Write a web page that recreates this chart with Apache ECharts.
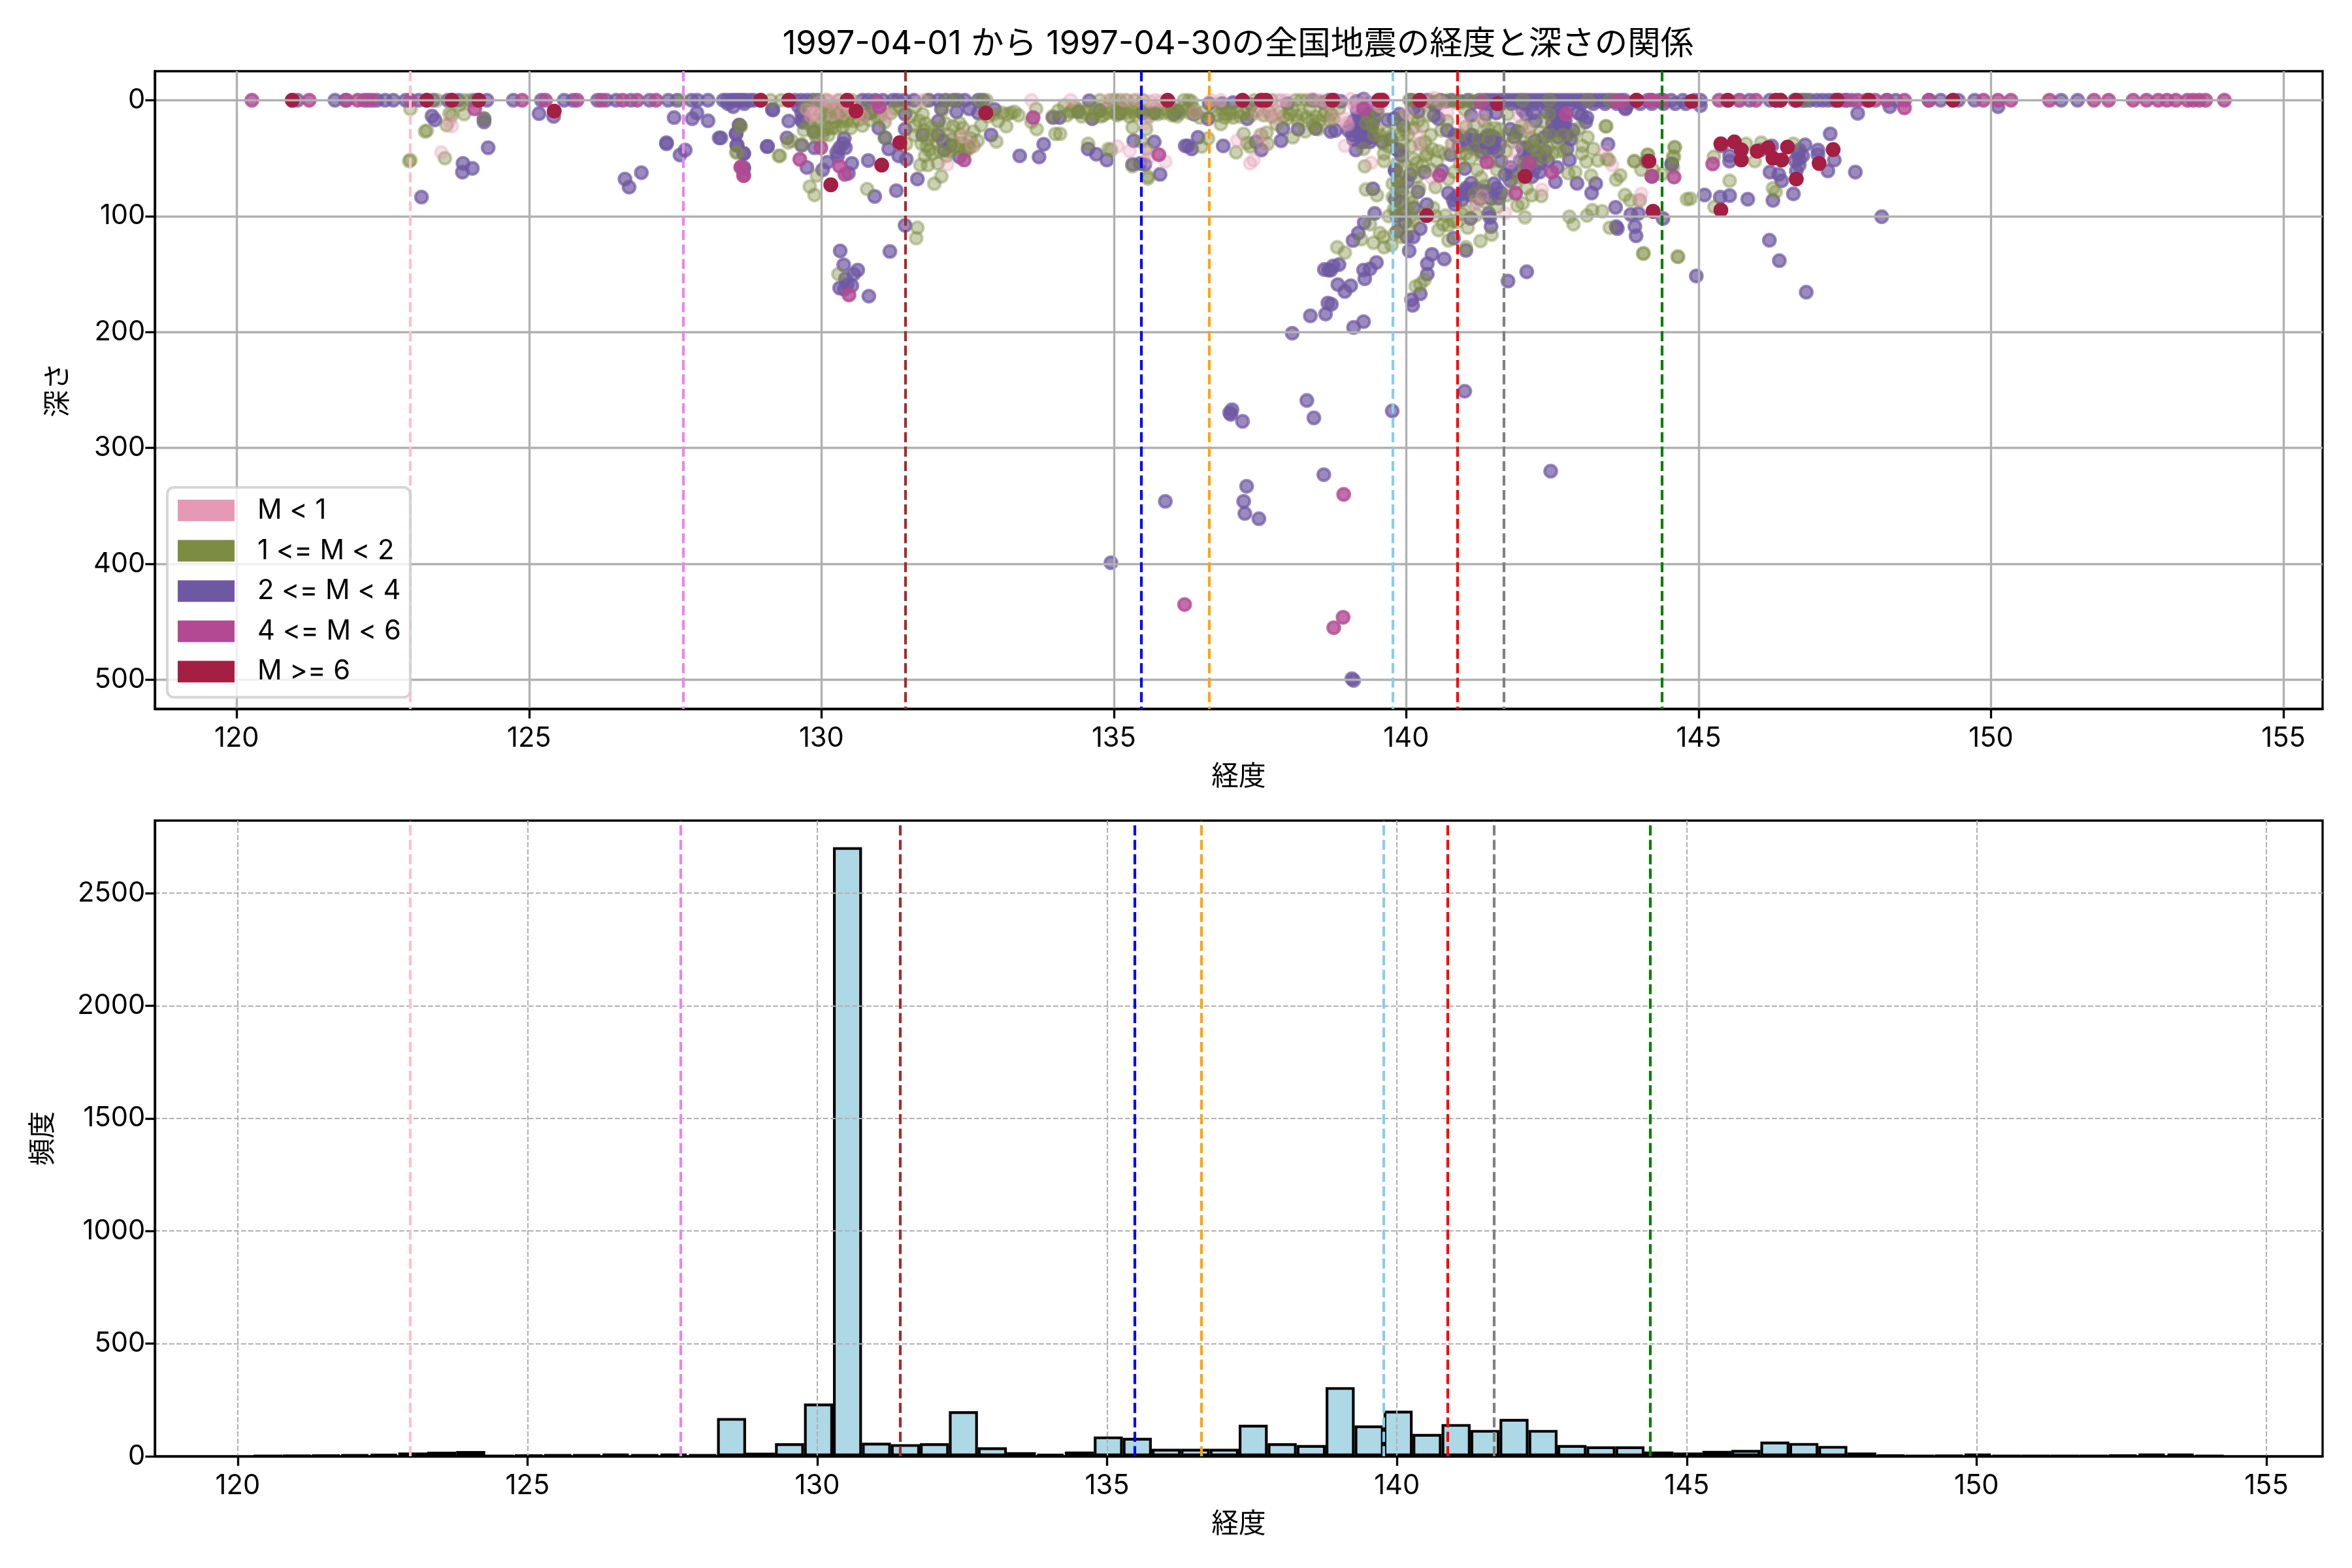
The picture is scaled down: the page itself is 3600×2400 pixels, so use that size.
<!DOCTYPE html>
<html><head><meta charset="utf-8">
<script src="https://cdn.jsdelivr.net/npm/echarts@6/dist/echarts.min.js"></script>
<style>html,body{margin:0;padding:0;background:#fff}#c{width:3600px;height:2400px}</style>
</head><body><div id="c"></div>
<script>
const FONT='Inter,"Noto Sans CJK JP"';
const titleText='1997-04-01 から 1997-04-30の全国地震の経度と深さの関係';
const legendNames=['M < 1','1 <= M < 2','2 <= M < 4','4 <= M < 6','M >= 6'];
const solidColors=['#e699b4','#7c8c42','#6f58a3','#b14a93','#a41f43'];
const fillColors=['rgba(230,153,180,0.3)','rgba(124,140,66,0.4)','rgba(111,88,163,0.7)','rgba(177,74,147,0.8)','rgba(164,31,67,1)'];
const vlineValues=[122.97,127.64,131.43,135.47,136.63,139.77,140.87,141.67,144.37];
const vlineColors=['#ffc0cb','#ee82ee','#a52a2a','#0000ff','#ffa500','#87ceeb','#ff0000','#808080','#008000'];
const xTicks=[120,125,130,135,140,145,150,155];
const depthTicks=[0,100,200,300,400,500];
const countTicks=[0,500,1000,1500,2000,2500];
const binStart=120.27, binWidth=0.5;
const binCounts=[2,4,5,8,11,17,20,23,3,5,8,8,12,8,12,8,170,16,58,234,2704,60,54,58,200,40,18,11,21,88,82,33,33,33,140,58,50,307,137,202,99,143,117,166,117,50,44,44,21,17,24,28,65,59,46,17,5,3,4,12,2,2,2,2,5,12,12,3];

const pointsPink=[
[133.59,0],[129.85,11],[130.28,0],[130.95,3],[131.08,11],[132.15,55.4],[132.42,31],[132.57,39],[130.1,0],[130.37,11],[131.71,0],[129.9,12],[130.5,8],[130.7,14],
[134.26,0],[135.06,40],[135.27,43.8],[135.58,45],[135.58,50.7],[135.88,53],[135.71,0],[135.55,19.7],[135.62,1],[136.66,0],[136.83,0],[136.38,11],[137.11,34.7],[137.5,30],[137.56,39.4],[137.33,54.5],[137.39,51.6],[137.45,11],[137.72,11],[137.78,15],[137.86,0],[137.95,0],[138.41,-1],[138.95,39.4],[139.4,54],[138.97,19.7],[138.95,16],[139.1,3.8],[139.2,3.8],[138.75,15],[139.05,-1],[139.61,-1],[139,21],[134.9,0],[135.18,0],[135.4,0],[135.8,1],[137.62,12],[138.55,0],[138.8,0],[139.15,6],
[140.18,28],[140.23,38.5],[140.7,11],[140.8,37.6],[141.3,82.6],[141.78,53.5],[141.88,43],[142.08,25],[141.93,14],[141.69,97.6],[142.32,77],[143.4,45],[143.52,56],[144.02,80.8],[144,86],[140.01,11],[140.48,-2],[141.28,15],[141.19,90],[140.44,67.6],[140.98,19.7],
[123.68,22.5],[123.5,45],[123.64,18],
[129.82,14],[129.95,2],[130.15,1],[130.4,3],[130.55,2],[130.62,10],[130.98,4],[131.12,14],[130.2,12],[129.75,8],[138.65,2],[139.3,0],[139.45,2],[139.55,5],[137.8,0],[140.3,1],[140.6,2]
];
const pointsOlive=[
[128.62,22.5],[128.54,45],[129.29,48],[129.43,36.6],[129.49,35],[129.66,38],[129.92,65],[129.8,74.5],[129.88,81.7],[130.78,76.6],[131.64,110],[131.62,119],[130.29,150],[131.69,56],[131.82,56],[131.99,54.5],[132.05,65.7],[131.93,72],[132.25,22.5],[132.36,19.7],[132.6,27],[132.73,21.6],[132.99,35.7],[133.16,22.5],[133.68,25],[133.67,7.5],[134,29],
[129.81,7.5],[130,11],[130.11,9.4],[130.22,18.8],[130.33,9.4],[130.41,5.6],[130.11,24.4],[129.88,29],[130.03,26.3],[130.44,17.8],[129.92,16.9],[130.16,15],[129.72,6.6],[130.63,11],[130.74,13],[130.96,15],[131.19,11],[130.05,6],[130.2,8],[130.27,13],[130.36,15],[130.5,12],[129.98,20],
[131.73,12],[131.67,17.8],[131.75,26],[131.82,34],[131.8,39.4],[131.84,43],[131.97,35.7],[131.71,37.6],[132.45,43],[132.53,41],[132.6,39.4],[132.34,42],[132.23,33.8],[132.27,39.4],[131.45,37.6],[131.08,32],[132.07,8.5],[132.79,11],[132.94,12],[133.09,11],[133.24,11],[133.37,13],[133.59,18.8],[131.34,5.6],[131.9,30],[131.6,6],[132.47,44],[132.5,39],
[130.08,0],[130.3,0],[130.52,0],[129.9,0],[131.8,0],[132.15,0],[132.3,0],[132.7,0],[132.82,0],
[134.26,10],[134.28,9],[134.62,15],[134.15,4.7],[134.08,29],[134.56,37.6],[134.91,42],[134.95,43],[135.32,23.5],[135.55,25],[135.47,35.7],[135.56,42],[135.58,65.7],[135.58,67.6],[135.32,57],[134.76,0],[134.95,0],[135.1,0],[135.36,0],[136.2,0],[136.33,1],[134.89,11],[135.04,12],[135.21,11],[135.34,10],[135.62,11],[135.85,11],[135.99,13],[136.25,7.5],[136.4,11],[136.5,40],[136.61,33],[136.83,20.6],[136.92,12],[137.04,15],[137.22,11],[137.56,13],[137.22,29],[137.09,45],[137.33,40],[137.28,37],[137.63,37.6],[137.52,30],[137.61,28],[138.06,32],[137.78,20.6],[138,12],[138.11,0],[138.3,0],[138.15,17.8],[138.27,27],[138.39,17.8],[138.49,25],[138.75,16],[139.31,19.7],[139.27,42],[139.29,57],[139.31,77],[139.5,82],[139.62,46],[139.62,52.6],[139.77,72],[139.77,83.6],[139.79,94],[139.38,107],[139.55,114.6],[139.44,123],[139.61,118],[139.62,126.8],[138.82,126.8],[138.95,131.5],[139.23,120],[139.68,28],[139.61,37.6],
[134.4,8],[134.5,11],[134.7,7],[134.82,13],[135.12,7],[135.26,14],[135.42,8],[135.7,7],[135.92,9],[136.08,14],[136.18,6],[136.47,15],[136.72,9],[136.78,13],[136.98,9],[137.1,10],[137.3,8],[137.65,10],[137.9,14],[138.05,8],[138.22,12],[138.35,8],[138.45,14],[138.58,13],[138.68,17],[139.35,14],[139.5,25],[139.7,40],[139.85,55],[139.9,66],[139.95,75],[140.02,95],[139.88,105],
[133.95,14],[134.05,9],[134.2,13],[134.33,6],[134.45,14],[134.56,8],[134.66,12],[134.78,14],[134.86,7],[134.98,9],[135.06,13],[135.16,9],[135.3,7],[135.38,13],[135.5,9],[135.6,14],[135.75,12],[135.8,8],[136,7],[136.13,11],[136.3,11],[136.36,7],[136.55,10],[136.85,8],[136.9,15],[137.0,12],[137.16,14],[137.35,13],[137.45,9],[137.7,14],[137.85,10],[137.96,16],[138.12,13],[138.3,15],[138.41,22],[138.52,18],[138.62,10],[138.72,12],[138.85,7],[135.02,0],[135.22,0],[135.5,0],[135.95,2],[136.28,0],[137.4,0],[137.7,0],[138.2,0],[138.5,1],
[139.42,22],[139.55,30],[139.72,32],[139.82,24],[139.92,15],[139.95,35],[140.03,30],[140.08,40],[140.12,24],[140.2,18],[140.32,36],[140.36,46],[139.85,76],[139.98,56],[140.1,60],[140.18,54],[140.28,56],[139.83,95],[139.95,88],[140.1,88],[140.28,98],[140.42,60],[140.5,75],[140.55,44],[140.6,26],[140.66,46],[140.72,68],[140.82,62],[140.92,55],[139.7,100],[139.8,115],[139.92,118],[140.05,110],[140.12,104],[139.75,125],[140.5,100],[140.55,112],[140.95,98],[140.92,46],[141.02,23],[141.1,50],[141.3,48],[141.45,53],[141.55,60],[141.6,25],[141.7,44],[141.83,36],[142.15,40],[142.2,52],[142.3,38],[142.42,40],[142.5,46],[142.62,44],[142.68,30],[142.02,36],[140.12,0],[140.22,1],[140.42,0],[140.52,2],[140.72,0],[140.95,2],[141.1,0],[141.2,1],[141.3,0],
[129.78,20],[129.85,24],[130.08,14],[130.18,24],[130.26,7],[130.33,18],[130.44,7],[130.55,18],[130.72,7],[130.82,17],[131.0,8],[131.08,19],[131.25,7],[131.9,46],[132.02,44],[132.14,48],[132.2,30],[132.4,37],[131.77,48],[131.6,30],
[129.7,26],[129.92,32],[130.02,30],[130.12,30],[130.24,24],[130.36,23],[130.5,24],[130.64,17],[130.7,22],[130.88,10],[131.02,13],[131.52,14],[131.6,22],[131.78,20],[131.88,23],[132,25],[132.12,20],[132.18,44],[132.38,30],[132.42,24],[132.55,33],[132.67,35],[132.85,14],[133.02,18],[133.18,12],[133.3,10],[140.7,18],[140.92,30],[141.02,46],[141.16,22],[141.34,18],[141.52,24],[141.72,30],[141.98,22],[142.1,24],[142.34,18],[142.7,44],[142.86,30],[143,46],[142.96,24],[143.1,32],[143.28,52],[143.2,42],[141.2,88],[141.36,88],[141.55,92],[141.72,82],[141.86,72],[142.15,82],[141.92,66],[141,95],[141.2,99],[140.72,108],[141.05,110],[141.46,116],
[140.39,13],[140.28,22.5],[140.42,30],[139.98,26],[140.24,37.6],[140.44,42],[140.13,50.7],[139.94,43],[140.52,52.6],[139.88,67.6],[140.05,84.5],[140.46,93],[140.67,99.5],[140.63,107],[140.8,104],[140.87,105],[140.72,121],[140.24,158.7],[140.31,155],[140.16,160.6],[141.02,126.8],[141.27,121.5],[140.78,37.6],[141.15,42],[141.23,32],[141.39,24.4],[141.41,33.8],[141.73,12],[141.21,60],[141.17,80.8],[141.34,74],[141.28,66.7],[141.92,27],[142.14,32],[142.29,28],[142.47,30],[142.58,36.6],[142.23,43],[142.38,48.8],[142.01,54.5],[142.06,76],[141.99,89],[141.9,91],[142.03,101],[142.31,82.6],[143.01,39.4],[143.08,53],[142.77,63],[142.89,62],[143.16,65],[143.42,22.5],[143.47,51.6],[143.59,68.5],[143.66,64.8],[143.74,81.7],[143.83,86.4],[143.99,86.4],[142.79,100.5],[142.86,107],[143.09,99.5],[143.18,94.8],[143.35,95.8],[143.48,110],[144.06,132],[144.64,135],[144.59,40.8],[144.56,48.8],[143.9,52.6],[144.02,60],[144.13,47],[144.22,60],[144.37,63.8],[144.8,85.4],[141.99,0],[142.45,0],[143.11,0],[143.48,0],[142.44,12],[140.05,0],[140.3,2],[140.6,0],[140.85,2],[141,8],
[145.81,37.6],[146.07,36.6],[145.26,48.8],[145.53,69.5],[145.96,52.6],[146.27,76],[146.32,79],[144.86,84.9],[145.27,92],[144.05,132.4],[144.65,135],[146.62,37.6],[144.59,40.4],[144.58,48.8],[144.56,58],[143.9,52.6],[144.13,47],[143.41,22.5],[143.43,50.7],[146.82,0],[145.68,0],[145.48,0],
[122.97,7.5],[123.89,12],[123.68,13],[123.59,21.6],[123.25,26.3],[123.22,27],[122.97,51.6],[122.95,52.6],[123.56,50],[124.23,16],[123.82,3.8],[123.64,11.3],[128.61,22.5],[128.56,45],[129.27,48],[123.43,0],[123.89,0],[123.99,0],[127.6,0],[129.13,0],[129.31,0],
[139.45,30],[139.52,12],[139.88,30],[140.1,16],[140.33,48],[140.18,66],[140.08,100],[140.22,76]
];
const pointsPurple=[
[128.28,32.5],[128.54,29],[128.59,21.6],[128.55,39],[128.67,46],[128.67,59],[129.44,18],[129.16,8],[129.07,40],[129.41,32.5],[129.68,19],[129.66,39],[129.88,41],[129.87,27],[130.1,53.5],[130.02,60],[129.75,58],[130.52,54.5],[130.46,63],[130.8,52],[130.91,83],[131.28,78],[131.64,68],[131.43,108],[130.32,130],[130.38,142],[130.62,146.5],[130.55,150],[130.52,160],[130.41,154],[130.31,162],[130.39,163],[130.44,159],[130.81,169],[131.17,130.5],[130.39,33],[130.37,37.5],[130.31,41],[130.26,45],[130.28,48],[130.41,41],[130.98,24],[131.09,32.5],[131.15,42],[131.32,48],[131.45,51],[131.43,25],[131.43,12],[130.82,11],[132,18],[131.99,30],[132.08,35],[132.21,39],[132.1,43],[132.36,49],[132.31,10],[132.05,7.5],[132.53,7.5],[132.68,11],[132.9,30],[132.96,8],[133.39,48],[133.8,38],[133.72,49],[133.96,15],[131.73,30],[129.66,11],[129.66,17],[129.6,5],[129.7,14],
[128.32,0],[128.38,0],[128.45,0],[128.5,0],[128.55,0],[128.6,0],[128.65,0],[128.7,0],[128.78,0],[128.84,0],[129.55,0],[129.65,0],[129.75,0],[129.85,0],[129.95,0],[130.7,0],[130.8,0],[130.92,0],[131.05,0],[131.22,0],[131.3,0],[131.42,0],[131.58,0],[131.84,0],[132,0],[132.12,0],[132.25,0],[132.33,0],[132.45,0],[132.68,0],[132.76,0],[128.4,3],[128.68,3],
[134.58,0.4],[134.39,10],[134.76,9],[134.63,16],[135.1,11],[135.34,35],[135.69,36],[134.56,42],[134.7,46.6],[134.88,51.6],[135.49,11],[135.69,11],[136.09,9.4],[136.03,12],[136.37,12],[136.61,16],[136.44,32],[136.22,39.4],[136.27,39.4],[136.33,42],[136.87,39.4],[137.43,36],[137.52,43],[137.86,35],[137.89,24.4],[138.15,25],[137.97,3],[137.35,3.8],[137.28,16],[138.45,24.4],[138.58,2],[138.88,1],[138.71,27],[138.79,26],[139.16,9],[139.27,-1],[139.27,6.6],[139.08,30],[139.27,28],[139.34,32],[139.23,35.7],[139.14,43],[139.01,26],[139.59,35.7],[139.74,33.8],[139.68,17],[139.79,16],[139.27,20.6],[139.43,76.4],[139.46,97.7],[139.28,105.5],[139.18,114.6],[139.09,121],[138.85,141.8],[138.67,146.5],[138.71,146.5],[138.83,159],[139.27,146.5],[139.38,145.5],[139.49,140],[139.29,154],[138.66,175],[136.63,2.8],[136.85,2.8],[137.04,2],[139.81,85.4],[139.81,61],[139.85,43],[135.45,54.5],[135.53,55.4],[135.79,64],[135.32,55.4],[134.07,15],[138.4,0],[138.68,0],[138.78,0],[139.1,18],[139.2,14],[139.35,12],[139.4,26],[139.22,25],[139.3,33],[139.42,20],[139.5,8],[139.15,1],[139.38,3],
[139.05,22],[139.12,24],[139.2,30],[139.28,36],[139.35,24],[139.42,32],[139.1,34],[139.22,18],[139.3,15],[139.45,16],[139.18,28],[139.32,22],[139.38,36],[139.88,12],[139.95,22],[139.92,48],[139.86,70],[139.95,98],[139.84,100],[140.02,70],[139.98,105],[140.12,118],[140.05,130],
[140.13,6.6],[139.87,43],[139.81,60],[140.07,64],[140.31,62],[140.61,61],[139.92,79],[140.2,79],[139.9,88],[140.13,93],[140.35,90],[140.24,110.8],[140.01,118],[139.85,112.7],[140.81,119],[140.44,133],[140.65,137],[140.36,141],[140.36,150],[140.24,167],[140.09,172],[140.11,177],[141.02,129.6],[141.74,156],[142.06,148],
[140.83,30],[140.87,32],[140.76,47],[141.06,33.8],[141.17,34.7],[141.24,39.4],[141,59],[141.47,31],[141.5,41],[141.6,37.6],[141.62,52.6],[141.69,64],[141.78,69.5],[141.9,27],[141.99,41],[142.08,60],[142.06,41],[142.29,54.5],[142.58,58],[142.55,70.4],[142.81,33.8],[142.79,51.6],[142.62,20.6],[142.58,15],[142.7,22.5],[143.07,18.8],[143.09,15],[142.94,11],[142.92,71.7],[143.24,72],[143.17,80],[143.45,38],[143.58,92.4],[143.84,98.6],[143.97,97.7],[143.91,109],[143.93,117],[143.59,109],[143.61,110.8],[143.75,6.6],[144.11,52.6],[144.54,54.8],[144.39,102],[144.2,65.7],[140.72,80],[140.87,82.6],[140.98,80.8],[140.83,90],[141.11,71.4],[141.1,102],[141.5,72],[141.39,79],[141.58,84.5],[141.41,97.7],[141.45,109],[141.43,101],[141.99,8.5],[142.18,11],[142.21,18],[141.54,11],[141.36,12],[141.78,25],[140.48,13],[140.5,4.7],[141.11,13],[142.36,32],[142.66,18],[142.54,24],[141.48,38],[141.35,33],[142.75,30],[141.02,78],[140.8,86],
[142.4,10],[142.5,12],[142.55,9],[142.62,14],[142.68,12],[142.72,18],[142.5,20],[142.6,26],[142.45,28],[142.65,24],[141.05,38],[141.12,30],[141.2,40],[141.28,35],[141.38,42],[141.45,36],[141.55,44],[141.4,30],[141.3,45],[141.52,33],[141.02,76],[141.1,82],[141.18,76],[141.25,85],[141.32,78],[141.45,85],[141.55,76],[141.62,80],[140.95,86],[142.02,46],[142.12,50],[142.2,44],[142.3,48],[142.42,52],[142.05,58],[142.18,60],[142.28,62],[142.15,66],[141.95,52],[142.38,44],[141.85,32],[142.2,35],[142.6,32],[142.75,42],[142.05,12],[142.85,26],[143,13],[140.2,10],[140.55,16],[140.9,40],[140.7,26],[141.82,62],[141.78,58],
[141.35,0],[141.42,0],[141.5,0],[141.58,0],[141.66,0],[141.74,0],[141.82,0],[141.9,0],[141.98,0],[142.06,0],[142.14,0],[142.22,0],[142.3,0],[142.38,0],[142.46,0],[142.54,0],[142.62,0],[142.7,0],[142.78,0],[142.86,0],[142.94,0],[143.02,0],[143.1,0],[143.18,0],[143.26,0],[143.34,0],[143.42,0],[143.5,0],[143.58,0],[143.66,0],[141.4,3],[141.6,3],[141.8,3],[142,3],[142.2,3],[142.4,3],[142.6,3],[142.8,3],[143,3],[143.2,3],[143.4,3],[143.6,3],[143.8,3],[144,3],[144.2,3],[144.4,3],[144.6,3],[144.78,3],[140.08,0],[140.18,1],[140.35,0],[140.45,2],[140.58,0],[140.68,1],[140.78,0],[140.92,1],[141.05,0],[141.15,2],[141.25,0],
[145.39,39.4],[145.53,47.9],[145.53,52.6],[146.06,43],[146.25,39.4],[146.72,43],[146.82,38.5],[146.72,50.7],[146.72,56],[146.67,61],[147.04,43],[147.04,47],[147.32,51.6],[147.21,61],[147.68,62],[147.25,29],[146.22,62],[146.37,64],[146.42,69.5],[146.27,86.4],[146.62,80.8],[145.84,85.4],[145.53,82.3],[145.37,83.6],[145.1,81.7],[144.54,55.4],[148.13,100.5],[146.21,120.8],[146.38,138.4],[144.96,151.6],[146.84,165.6],[147.72,11.3],[148.27,5.6],[145.03,4.7],[143.75,7.5],[150.12,5.6],[146.7,46],[146.78,48],[146.65,52],
[151.48,0],[151.2,0],[149.72,0],[149.44,0],[149.14,0],[148.94,0],[148.37,0],[148.22,0],[147.87,0],[147.62,0],[147.42,0],[147.22,0],[147.02,0],[146.82,0],[146.64,0],[146.22,0],[145.87,0],[145.03,0],[144.93,0],[144.73,0],[144.53,0],[144.33,0],[144.13,0],[143.93,0],[143.73,0],[146.9,0],[146.75,0],[147.12,0],[147.32,0],[147.52,0],
[121.04,0],[121.68,0],[121.86,0],[122.25,0],[122.4,0],[122.54,0],[122.68,0],[122.89,0],[123.11,0],[123.36,0],[123.61,0],[123.79,0],[124.07,0],[124.28,0],[124.73,0],[125.21,0],[125.6,0],[125.75,0],[126.17,0],[126.32,0],[126.49,0],[126.74,0],[127.06,0],[127.38,0],[127.53,0],[127.78,0],[127.88,0],[128.06,0],
[123.34,13.7],[123.39,17],[124.23,16],[124.23,18.8],[124.3,41],[123.87,54.5],[124.03,58.8],[123.86,62],[123.16,83.6],[125.17,11.6],[125.42,14],[127.48,15],[127.79,16],[127.87,11],[128.06,17.8],[127.35,36.6],[127.35,37.6],[127.67,43],[127.58,47.3],[126.92,62.5],[126.64,68],[126.71,75],[128.25,32.5],[128.6,21.6],[128.54,29],[128.56,38.5],[128.67,46],[129.08,39.8],[128.67,58],[128.49,5.6],[129.17,8.5],
[134.95,399],[135.88,346],[137.0,271],[137.02,267],[136.98,269.5],[137.2,277],[137.27,333],[137.22,346],[137.24,356.5],[137.48,361],[138.3,259],[138.42,274],[138.59,323],[139.76,268],[139.1,500.5],[141,251],[142.47,320],[139.07,499],[138.05,201],[138.36,186],[138.62,184.5],[138.72,176],[139.1,196],[139.27,191],[138.95,165],[139.05,160],[138.6,146],[138.75,143]
];
const pointsMagenta=[
[129.99,41],[129.63,51],[128.62,58],[128.67,65],[130.31,57],[130.4,64],[130.99,5.6],[132.44,51.6],[130.95,1],[133.62,15],[130.47,168],
[135.77,47],[139.27,7.5],[141.38,53.5],[142.1,54.5],[142.49,62],[142.73,12],[141.87,80.2],[141.28,2],[144.2,65.7],[144.58,66.3],[144.2,0],[144.39,0],[143.59,1],[143.7,1],[140.57,64.8],
[145.24,55],[148.52,6.6],[153.99,0],[153.67,0],[153.56,0],[153.46,0],[153.36,0],[153.16,0],[153.01,0],[152.86,0],[152.66,0],[152.43,0],[152.01,0],[151.76,0],[151,0],[150.34,0],[150.12,0],[149.87,0],[148.94,0],[148.52,0],[148.22,0],[148.02,0],[147.72,0],[147.52,0],[145.98,0],[145.7,0],[145.35,0],[144.38,0],[144.18,0],
[120.26,0],[121.24,0],[121.88,0],[122.07,0],[122.18,0],[122.32,0],[122.97,0],[124.88,0],[125.28,0],[125.82,0],[126.24,0],[126.6,0],[126.85,0],[127.17,0],[124.07,7.5],[128.67,64.8],[128.63,57.3],
[138.93,340],[136.21,435],[138.92,446],[138.76,455]
];
const pointsCrimson=[
[128.96,0],[129.44,0],[130.59,9.4],[130.16,73],[131.03,56],[131.34,36.6],[132.81,11],[130.44,0],[135.92,0],[137.2,0],[137.52,0],[137.6,0],[138.74,0],[139.53,0],[139.59,0],
[140.23,0],[140.35,99.5],[144.22,95.8],[144.15,52.6],[143.94,0],[142.03,65.7],[141.56,3],
[145.38,37.6],[145.61,36],[145.73,42.8],[145.73,51.6],[146,44],[146.19,41],[146.52,40.4],[146.27,50],[146.42,51.6],[147.06,54.5],[147.3,42.6],[146.67,68],[145.38,94.8],[146.32,0],[146.4,0],[146.67,0],[147.37,0],[147.91,0],[149.35,0],[145.5,0],[144.88,1],
[120.95,0],[123.25,0],[123.68,0],[124.14,0],[125.43,9.4]
];

const drawOrder=[2,1,0,3,4];
const classPoints=[pointsPink,pointsOlive,pointsPurple,pointsMagenta,pointsCrimson];
const frame=[{left:237,top:109,width:3318,height:976},{left:237,top:1256,width:3318,height:973}];
const tickLen=14.6, lw=3.33;
const plainLabel=v=>String(v);

function xAxis(idx,min,max){return{
  type:'value',gridIndex:idx,min,max,z:5,name:'経度',nameLocation:'middle',nameGap:84,
  nameTextStyle:{fontFamily:FONT,fontSize:41.67,color:'#000'},
  axisLine:{show:true,onZero:false,lineStyle:{color:'#000',width:lw}},
  axisTick:{show:true,length:tickLen,customValues:xTicks,lineStyle:{color:'#000',width:lw}},
  axisLabel:{show:true,margin:25,fontFamily:FONT,fontSize:41.67,color:'#000',customValues:xTicks,formatter:plainLabel,hideOverlap:false},
  splitLine:{show:true,lineStyle:idx?{color:'#b0b0b0',width:2.08,type:[7.7,3.3]}:{color:'#b0b0b0',width:lw}}
};}
function yAxis(idx,min,max,ticks,name,gap,inv){return{
  type:'value',gridIndex:idx,min,max,inverse:inv,z:5,name,nameLocation:'middle',nameGap:gap,
  nameTextStyle:{fontFamily:FONT,fontSize:41.67,color:'#000'},
  axisLine:{show:true,onZero:false,lineStyle:{color:'#000',width:lw}},
  axisTick:{show:true,length:tickLen,customValues:ticks,lineStyle:{color:'#000',width:lw}},
  axisLabel:{show:true,margin:14.6,padding:[3,0,0,0],fontFamily:FONT,fontSize:41.67,color:'#000',customValues:ticks,formatter:plainLabel,hideOverlap:false},
  splitLine:{show:true,lineStyle:idx?{color:'#b0b0b0',width:2.08,type:[7.7,3.3]}:{color:'#b0b0b0',width:lw}}
};}
function vlines(idx){return{
  type:'scatter',name:'vlines'+idx,xAxisIndex:idx,yAxisIndex:idx,data:[],z:10,silent:true,
  markLine:{silent:true,symbol:['none','none'],animation:false,z:10,label:{show:false},
    data:vlineValues.map((v,i)=>({xAxis:v,lineStyle:{color:vlineColors[i],width:4.17,type:[15.4,6.7]}}))}
};}
const scatterSeries=drawOrder.map(i=>({
  type:'scatter',name:legendNames[i],xAxisIndex:0,yAxisIndex:0,data:classPoints[i],symbol:'circle',symbolSize:18.6,z:2,
  itemStyle:{color:fillColors[i],borderColor:fillColors[i],borderWidth:4.17,opacity:1},
  emphasis:{disabled:true},silent:true
}));
const barData=binCounts.map((c,i)=>[binStart+binWidth*(i+0.5),c]);
const barSeries={type:'bar',name:'頻度',xAxisIndex:1,yAxisIndex:1,data:barData,barWidth:44.4,z:2,silent:true,
  itemStyle:{color:'#add8e6',borderColor:'#000',borderWidth:4.17}};

const chart=echarts.init(document.getElementById('c'),null,{renderer:'canvas',width:3600,height:2400});
chart.setOption({
  animation:false,backgroundColor:'#fff',
  title:{text:titleText,left:1890,top:38,textAlign:'center',textStyle:{fontFamily:FONT,fontSize:50.5,fontWeight:'normal',color:'#000'}},
  grid:frame.map(f=>({...f,show:true,borderColor:'#000',borderWidth:lw,backgroundColor:'transparent',containLabel:false})),
  xAxis:[xAxis(0,118.6,155.67),xAxis(1,118.57,155.97)],
  yAxis:[yAxis(0,-25,525,depthTicks,'深さ',127,true),yAxis(1,0,2822,countTicks,'頻度',150,false)],
  legend:{
    left:256,top:746,orient:'vertical',selectedMode:false,z:20,
    itemWidth:87,itemHeight:33,itemGap:20,padding:[14.5,14,18.5,16],
    backgroundColor:'rgba(255,255,255,0.8)',borderColor:'rgba(204,204,204,0.8)',borderWidth:4.17,borderRadius:10,
    textStyle:{fontFamily:FONT,fontSize:41.67,lineHeight:33,color:'#000',padding:[0,0,0,30]},
    data:legendNames.map((n,i)=>({name:n,icon:'rect',itemStyle:{color:solidColors[i],borderWidth:0,opacity:1}}))
  },
  series:[...scatterSeries,vlines(0),barSeries,vlines(1)]
});
</script></body></html>
